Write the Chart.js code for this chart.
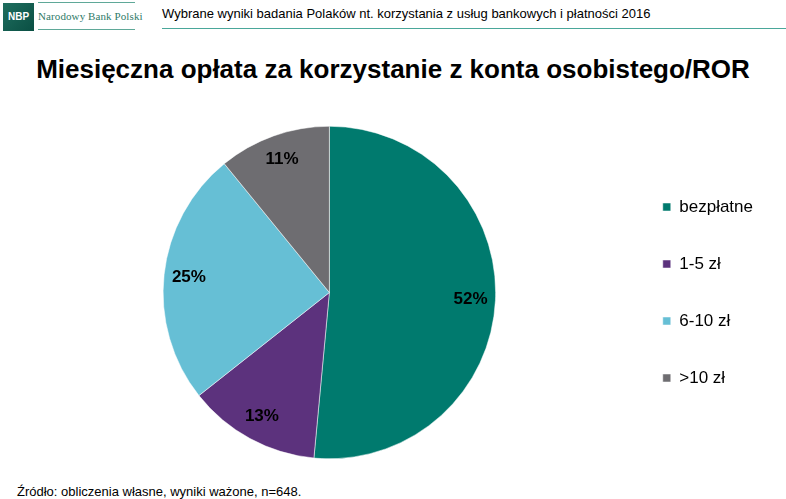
<!DOCTYPE html>
<html>
<head>
<meta charset="utf-8">
<script src="https://cdn.jsdelivr.net/npm/chart.js@4"></script>
<style>
  html, body { margin: 0; padding: 0; background: #fff; }
  body { width: 786px; height: 499px; position: relative; overflow: hidden; font-family: "Liberation Sans", Arial, sans-serif; }
  .logo { position: absolute; left: 3px; top: 3px; width: 31px; height: 28px; background: linear-gradient(135deg, #1f6e5f, #0a4f43); color: #fff; font: bold 10px "Liberation Sans", Arial, sans-serif; line-height: 28px; text-align: center; }
  .bank { position: absolute; left: 38px; top: 2px; width: 97px; height: 26px; border-top: 1px solid #5fa898; border-bottom: 1px solid #5fa898; color: #2f7a68; font: 11px "Liberation Serif", serif; line-height: 26px; white-space: nowrap; letter-spacing: 0.1px; }
  .head { position: absolute; left: 162px; top: 6px; right: 0; height: 22px; border-bottom: 1px solid #4aa79a; font-size: 13px; color: #000; white-space: nowrap; }
  .title { position: absolute; left: 0; width: 786px; top: 54px; text-align: center; font: bold 26px "Liberation Sans", Arial, sans-serif; color: #000; }
  .src { position: absolute; left: 17px; top: 484px; font-size: 13px; color: #000; }
  .wrap { position: absolute; left: 0; top: 110px; width: 786px; height: 366px; }
</style>
</head>
<body>
<div class="logo">NBP</div>
<div class="bank">Narodowy Bank Polski</div>
<div class="head">Wybrane wyniki badania Polaków nt. korzystania z usług bankowych i płatności 2016</div>
<div class="title">Miesięczna opłata za korzystanie z konta osobistego/ROR</div>
<div class="wrap"><canvas id="pieChart"></canvas></div>
<div class="src">Źródło: obliczenia własne, wyniki ważone, n=648.</div>
<script>
const categories = ['bezpłatne', '1-5 zł', '6-10 zł', '>10 zł'];
const shares = [52, 13, 25, 11];
const sliceColors = ['#007A6E', '#5C327D', '#66BFD5', '#6E6D71'];

// percent labels inside the slices
const sliceLabels = {
    id: 'sliceLabels',
    afterDatasetsDraw(chart) {
        const ctx = chart.ctx;
        const meta = chart.getDatasetMeta(0);
        ctx.save();
        ctx.font = 'bold 17px "Liberation Sans", Arial, sans-serif';
        ctx.fillStyle = '#000';
        ctx.textAlign = 'center';
        ctx.textBaseline = 'middle';
        meta.data.forEach((arc, i) => {
            const p = arc.getProps(['x', 'y', 'startAngle', 'endAngle', 'outerRadius'], true);
            const mid = (p.startAngle + p.endAngle) / 2;
            const r = p.outerRadius * 0.85;
            ctx.fillText(shares[i] + '%', p.x + Math.cos(mid) * r, p.y + Math.sin(mid) * r);
        });
        ctx.restore();
    }
};

const ctxPie = document.getElementById('pieChart').getContext('2d');
const pieChart = new Chart(ctxPie, {
    type: 'pie',
    data: {
        labels: categories,
        datasets: [{
            data: shares,
            backgroundColor: sliceColors,
            borderColor: '#ffffff',
            borderWidth: 0.5
        }]
    },
    options: {
        responsive: true,
        maintainAspectRatio: false,
        animation: false,
        layout: {
            padding: { left: 36, right: 23, top: 16, bottom: 17 }
        },
        plugins: {
            tooltip: { enabled: false },
            legend: {
                position: 'right',
                labels: {
                    boxWidth: 8,
                    boxHeight: 8,
                    padding: 40,
                    color: '#000',
                    font: { family: '"Liberation Sans", Arial, sans-serif', size: 17 }
                }
            }
        }
    },
    plugins: [sliceLabels]
});
</script>
</body>
</html>
